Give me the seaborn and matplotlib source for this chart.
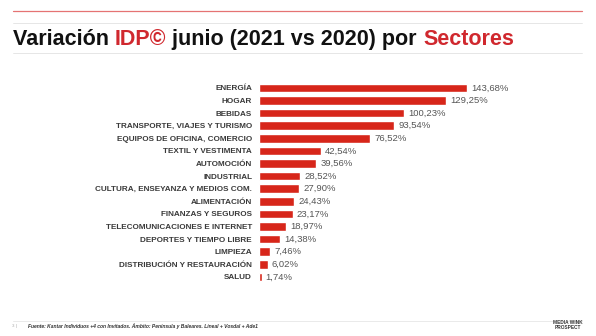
import matplotlib
matplotlib.use("Agg")
import matplotlib.pyplot as plt
import seaborn as sns
import pandas as pd
from matplotlib.lines import Line2D

sectores = ["ENERGÍA", "HOGAR", "BEBIDAS", "TRANSPORTE, VIAJES Y TURISMO",
            "EQUIPOS DE OFICINA, COMERCIO", "TEXTIL Y VESTIMENTA", "AUTOMOCIÓN",
            "INDUSTRIAL", "CULTURA, ENSEYANZA Y MEDIOS COM.", "ALIMENTACIÓN",
            "FINANZAS Y SEGUROS", "TELECOMUNICACIONES E INTERNET",
            "DEPORTES Y TIEMPO LIBRE", "LIMPIEZA", "DISTRIBUCIÓN Y RESTAURACIÓN", "SALUD"]
variacion = [143.68, 129.25, 100.23, 93.54, 76.52, 42.54, 39.56, 28.52, 27.90,
             24.43, 23.17, 18.97, 14.38, 7.46, 6.02, 1.74]

df = pd.DataFrame({"sector": sectores, "var": variacion})

sns.set_theme(style="white")
plt.rcParams["font.family"] = ["Liberation Sans", "DejaVu Sans"]

W, H = 596, 336
fig = plt.figure(figsize=(W / 100, H / 100), dpi=100)
fig.patch.set_facecolor("white")

RED = "#d7261a"
ax = fig.add_axes([259 / W, 0.157, 289.6 / W, 0.60])
sns.barplot(data=df, x="var", y="sector", orient="h", color=RED, saturation=1,
            width=0.68, ax=ax)
ax.set_xlim(0, 200)
ax.set_xlabel("")
ax.set_ylabel("")
ax.set_xticks([])
for s in ax.spines.values():
    s.set_visible(False)
ax.tick_params(axis="y", length=0, pad=5)
for lab in ax.get_yticklabels():
    lab.set_fontsize(5.9)
    lab.set_fontweight("bold")
    lab.set_color("#3a3a3a")
ax.bar_label(ax.containers[0],
             labels=[f"{v:.2f}".replace(".", ",") + "%" for v in variacion],
             padding=3, fontsize=6.8, color="#555555")

# decorative lines
def hline(y, x0, x1, color, lw):
    fig.add_artist(Line2D([x0 / W, x1 / W], [1 - y / H, 1 - y / H],
                          color=color, lw=lw, transform=fig.transFigure))

hline(11, 13, 582, "#e57373", 0.9)
hline(23, 13, 582, "#e2e2e2", 0.6)
hline(52.5, 13, 582, "#e2e2e2", 0.6)
hline(321, 13, 582, "#e6e6e6", 0.6)

# title
parts = [("Variación ", "#111111"), ("IDP©", "#d0282e"),
         (" junio (2021 vs 2020) por ", "#111111"), ("Sectores", "#d0282e")]
fig.canvas.draw()
r = fig.canvas.get_renderer()
x = 13 / W
for txt, col in parts:
    t = fig.text(x, 1 - 45 / H, txt, fontsize=15.5, fontweight="bold", color=col,
                 ha="left", va="baseline")
    bb = t.get_window_extent(renderer=r)
    x += bb.width / W

# footer
fig.text(12 / W, 1 - 326 / H, "3 |", fontsize=3.2, color="#aaaaaa", va="center")
fig.text(28 / W, 1 - 326 / H,
         "Fuente: Kantar Individuos +4 con Invitados. Ámbito: Península y Baleares. Lineal + Vosdal + Ade1",
         fontsize=3.6, fontweight="bold", fontstyle="italic", color="#333333", va="center")
fig.text(568 / W, 1 - 325 / H, "MEDIA WINK\nPROSPECT", fontsize=3.4, fontweight="bold",
         color="#333333", ha="center", va="center", linespacing=0.9)

fig.savefig("out.png", dpi=100, facecolor="white")
